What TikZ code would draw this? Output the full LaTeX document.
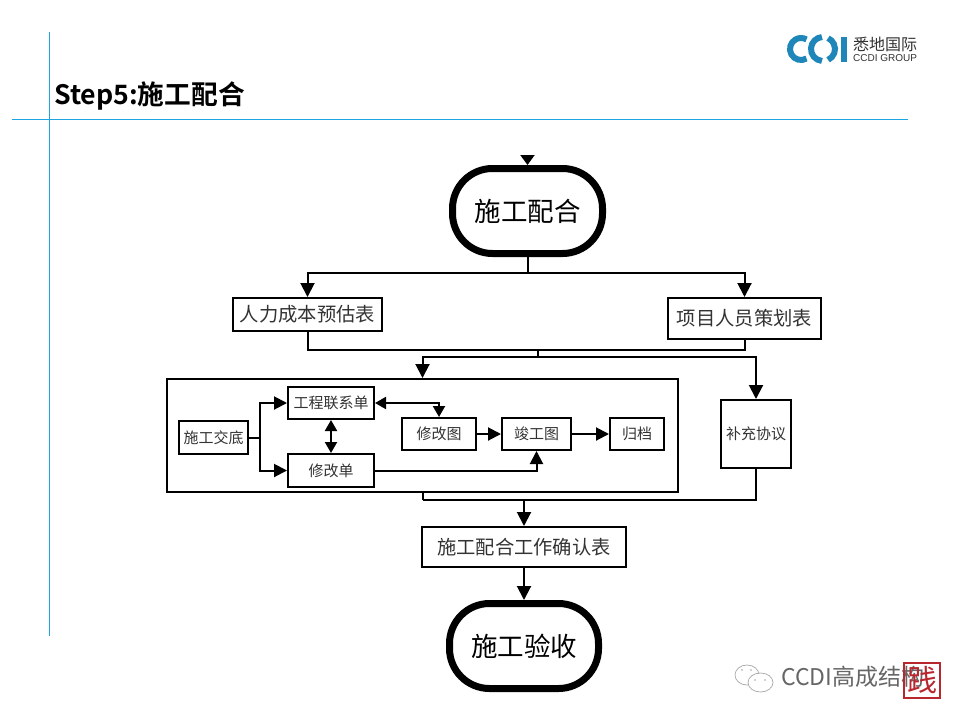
\documentclass[tikz,border=0pt]{standalone}
\usepackage{fontspec}
\setmainfont{Noto Sans CJK SC}
\newfontfamily\cjkb{Noto Sans CJK SC Bold}
\newfontfamily\latinlogo{Liberation Sans}
\usetikzlibrary{arrows.meta}
\definecolor{frameblue}{RGB}{30,165,225}
\definecolor{ccdi}{HTML}{1E86B8}
\definecolor{txt}{HTML}{333333}
\definecolor{sealred}{HTML}{B8262E}
\tikzset{
  boxn/.style={draw=black,line width=2pt,fill=white,inner sep=0pt,outer sep=1pt,align=center,text=txt},
  big/.style={boxn,font=\fontsize{19.3}{22}\selectfont},
  sml/.style={boxn,font=\fontsize{15}{17}\selectfont},
  term/.style={draw=black,line width=7pt,fill=white,rounded corners=40pt,inner sep=0pt,outer sep=3.5pt,
     text=black,font=\fontsize{26.5}{30}\selectfont},
  link/.style={line width=2pt,draw=black},
  arr/.style={link,-{Triangle[length=14pt,width=14pt]}},
  arrs/.style={link,-{Triangle[length=13pt,width=13pt]}},
  dbl/.style={link,{Triangle[length=11pt,width=12pt]}-{Triangle[length=11pt,width=12pt]}},
}
\begin{document}
\begin{tikzpicture}[x=1pt,y=-1pt]
\useasboundingbox (0,0) rectangle (960,720);
\fill[white] (0,0) rectangle (960,720);
% frame rules
\fill[frameblue] (49,32) rectangle (50.4,636);
\fill[frameblue] (12,119) rectangle (908,120.4);
\node[anchor=west,inner sep=0pt,font=\cjkb\fontsize{26.7}{30}\selectfont] (title) at (54,96) {Step5:施工配合};
% logo
\begin{scope}[ccdi,line width=6pt]
\draw ([shift={(60:11)}]801,49) arc (60:300:11);
\draw ([shift={(95:12)}]823,49) arc (95:265:12);
\draw ([shift={(65:12)}]823,49) arc (65:-65:12);
\draw (844,36.5) -- (844,62);
\end{scope}
\node[anchor=west,inner sep=0pt,text=txt,font=\fontsize{16}{17}\selectfont] (logocn) at (853,44) {悉地国际};
\node[anchor=west,inner sep=0pt,text=txt,font=\latinlogo\fontsize{10}{12}\selectfont] (logoen) at (853,58.5) {CCDI GROUP};
% flow nodes
\node[term,minimum width=150pt,minimum height=85pt] (start) at (527.5,211) {施工配合};
\node[big,minimum width=149pt,minimum height=33pt] (labor) at (307.5,314.5) {人力成本预估表};
\node[big,minimum width=153pt,minimum height=41pt] (plan) at (744.5,318.5) {项目人员策划表};
\node[draw=black,line width=2pt,inner sep=0pt,outer sep=1pt,minimum width=511pt,minimum height=113pt] (group) at (422.5,435.5) {};
\node[sml,minimum width=69pt,minimum height=33pt] (brief) at (213.5,437.5) {施工交底};
\node[sml,minimum width=86pt,minimum height=32pt] (contact) at (331,403) {工程联系单};
\node[sml,minimum width=86pt,minimum height=33pt] (change) at (331,470.5) {修改单};
\node[sml,minimum width=74pt,minimum height=32pt] (modify) at (439,434) {修改图};
\node[sml,minimum width=69pt,minimum height=32pt] (asbuilt) at (536.5,434) {竣工图};
\node[sml,minimum width=54pt,minimum height=32pt] (archive) at (637,434) {归档};
\node[sml,minimum width=70pt,minimum height=68pt] (extra) at (756,434) {补充协议};
\node[big,minimum width=204pt,minimum height=40pt] (confirm) at (524,547) {施工配合工作确认表};
\node[term,minimum width=149pt,minimum height=85pt] (accept) at (524,646) {施工验收};
% named junctions
\coordinate (top) at (527.5,156);
\coordinate (j1) at (527.5,273);
\coordinate (j2) at (538,350);
\coordinate (j3) at (538,357);
\coordinate (j4) at (422.5,500);
\coordinate (j5) at (524,500);
\coordinate (j6) at (260,437.5);
% connectors
\draw[link,-{Triangle[length=10pt,width=14pt]}] (top) -- (start.north);
\draw[link] (start.south) -- (j1);
\draw[arr] (j1) -| (labor.north);
\draw[arr] (j1) -| (plan.north);
\draw[link] (labor.south) |- (j2);
\draw[link] (plan.south) |- (j2);
\draw[link] (j2) -- (j3);
\draw[arr] (j3) -| (group.north);
\draw[arr] (j3) -| (extra.north);
\draw[link] (brief.east) -- (j6);
\draw[arrs] (j6) |- (contact.west);
\draw[arrs] (j6) |- (change.west);
\draw[dbl] (contact.south) -- (change.north);
\draw[dbl] (contact.east) -| (modify.north);
\draw[arrs] (modify.east) -- (asbuilt.west);
\draw[arrs] (asbuilt.east) -- (archive.west);
\draw[arrs] (change.east) -| (asbuilt.south);
\draw[link] (group.south) |- (j4);
\draw[link] (extra.south) |- (j4);
\draw[arr] (j5) -- (confirm.north);
\draw[arr] (confirm.south) -- (accept.north);
% watermark
\begin{scope}[gray!70,line width=.7pt]
\draw (747,675) circle[x radius=12,y radius=10];
\draw[fill=white] (760.5,682.5) circle[x radius=12.5,y radius=9.5];
\fill (755,680) circle[radius=.8] (765,680) circle[radius=.8] (742,670) circle[radius=.8] (751,670) circle[radius=.8];
\end{scope}
\node[anchor=west,inner sep=0pt,text=black!60,font=\fontsize{23}{25}\selectfont] (mark) at (781,677) {CCDI高成结构};
\node[draw=sealred,line width=1.2pt,text=sealred,inner sep=0pt,outer sep=0pt,minimum width=36pt,minimum height=35pt,font=\fontsize{30}{32}\selectfont] (sealbox) at (922,680.5) {践};
\end{tikzpicture}
\end{document}
